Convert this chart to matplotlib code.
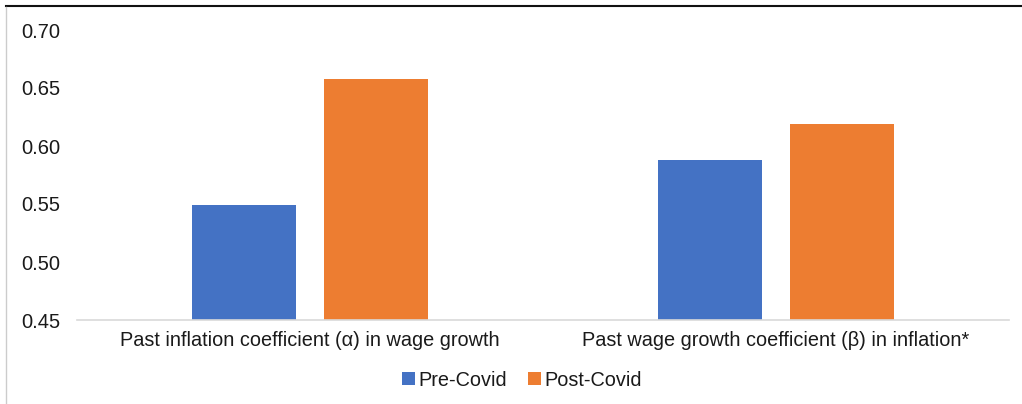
import numpy as np
import matplotlib.pyplot as plt
from matplotlib.lines import Line2D

plt.rcParams['font.family'] = ['Liberation Sans', 'DejaVu Sans']

categories = ['Past inflation coefficient (\u03b1) in wage growth',
              'Past wage growth coefficient (\u03b2) in inflation*']
pre_covid = [0.549, 0.588]
post_covid = [0.658, 0.619]
yticks = [0.45, 0.50, 0.55, 0.60, 0.65, 0.70]

blue = '#4472C4'
orange = '#ED7D31'

W, H = 1022, 404
fig = plt.figure(figsize=(W / 100, H / 100), dpi=100)
ax = fig.add_axes([77 / W, (H - 320) / H, (1009 - 77) / W, 290 / H])

x = np.arange(len(categories))
bw = 0.225
off = 0.1416
ax.bar(x - off, pre_covid, bw, color=blue, label='Pre-Covid', zorder=2)
ax.bar(x + off, post_covid, bw, color=orange, label='Post-Covid', zorder=2)

ax.set_xlim(-0.5, 1.5)
ax.set_ylim(0.45, 0.70)
ax.set_yticks(yticks)
ax.set_yticklabels([f'{v:.2f}' for v in yticks])
ax.set_xticks(x)
ax.set_xticklabels(categories)
ax.tick_params(axis='y', length=0, pad=12, labelsize=14.5, labelcolor='#1a1a1a')
ax.tick_params(axis='x', length=0, pad=8, labelsize=14.3, labelcolor='#1a1a1a')

for s in ['top', 'right', 'left']:
    ax.spines[s].set_visible(False)
ax.spines['bottom'].set_color('#d9d9d9')
ax.spines['bottom'].set_linewidth(1.2)

fig.legend(loc='center', bbox_to_anchor=(522 / W, (H - 380) / H), ncol=2,
           frameon=False, fontsize=14.3, handlelength=0.65, handleheight=0.65,
           handletextpad=0.15, columnspacing=1.1, labelcolor='#1a1a1a')

# frame lines of the original picture
fig.add_artist(Line2D([6 / W, 1], [1 - 6 / H, 1 - 6 / H], color='#111111', lw=1.5))
fig.add_artist(Line2D([6 / W, 6 / W], [0, 1 - 7 / H], color='#cccccc', lw=1))

fig.savefig('out.png', dpi=100)
